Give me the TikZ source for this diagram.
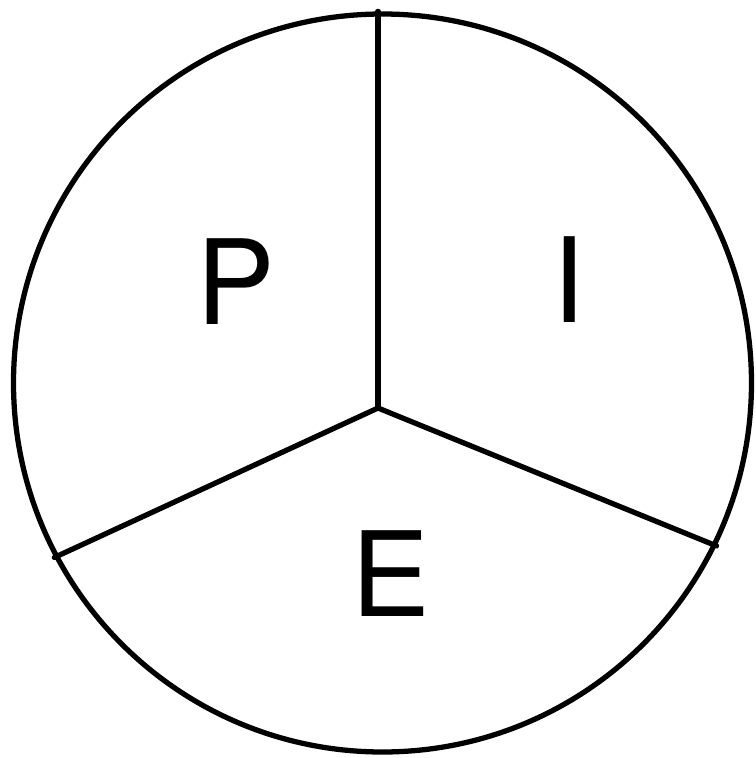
\documentclass[tikz,border=0pt]{standalone}
\usepackage{fontspec}
\setmainfont{TeX Gyre Heros}
\usepackage{tikz}

\begin{document}
\begin{tikzpicture}[
  line width=1.5pt,
  disc/.style   = {draw, circle, minimum size=7.38cm, inner sep=0pt},
  spoke/.style  = {line cap=round, line join=round},
  letter/.style = {font=\fontsize{33.5}{36}\selectfont, inner sep=0pt,
                   text depth=0pt}
]
\useasboundingbox (0,0) rectangle (7.55,7.58);
%% -- Outer circle and hub --
\node[disc] (pie) at (3.825,3.75) {};
\coordinate (hub) at (3.78,3.50);
%% -- Spokes --
\draw[spoke] (hub) -- (hub |- pie.north);
\draw[spoke] (hub) -- (pie.208);
\draw[spoke] (hub) -- (pie.334);
%% -- Sector labels --
\node[letter] (lblP) at (2.36,4.76) {P};
\node[letter] (lblI) at (5.69,4.78) {I};
\node[letter] (lblE) at (3.91,1.84) {E};
\end{tikzpicture}
\end{document}
